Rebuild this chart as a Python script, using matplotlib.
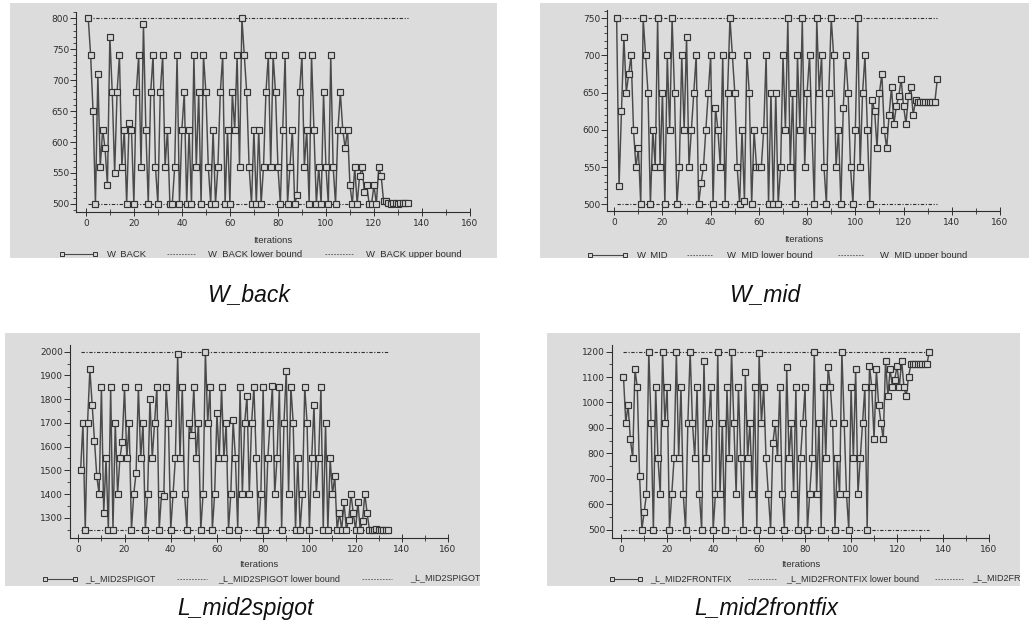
import matplotlib
matplotlib.use("Agg")
import matplotlib.pyplot as plt
import numpy as np
from matplotlib.ticker import MultipleLocator

# %% Data
w_back = [
    800, 740, 650, 500, 710, 560, 620, 590, 530, 770,
    680, 550, 680, 740, 560, 620, 500, 630, 620, 500,
    680, 740, 560, 790, 620, 500, 680, 740, 560, 500,
    680, 740, 560, 620, 500, 500, 560, 740, 500, 620,
    680, 500, 620, 500, 740, 560, 680, 500, 740, 680,
    560, 500, 620, 500, 560, 680, 740, 500, 620, 500,
    680, 620, 740, 560, 800, 740, 680, 560, 500, 620,
    500, 620, 500, 560, 680, 740, 560, 740, 680, 560,
    500, 620, 740, 500, 560, 620, 500, 515, 680, 740,
    560, 620, 500, 740, 620, 500, 560, 500, 680, 560,
    500, 740, 560, 500, 620, 680, 620, 590, 620, 530,
    500, 560, 500, 545, 560, 520, 530, 500, 500, 530,
    500, 560, 545, 505, 505, 502, 500, 502, 501, 500,
    501, 501, 501, 501,
]
w_mid = [
    750, 524, 625, 725, 650, 675, 700, 600, 550, 575,
    500, 750, 700, 650, 500, 600, 550, 750, 550, 650,
    500, 700, 600, 750, 650, 500, 550, 700, 600, 725,
    550, 600, 650, 700, 500, 528, 550, 600, 650, 700,
    500, 630, 600, 550, 700, 500, 650, 750, 700, 650,
    550, 500, 600, 505, 700, 650, 500, 600, 550, 550,
    550, 600, 700, 500, 650, 500, 650, 500, 550, 700,
    600, 750, 550, 650, 500, 700, 600, 750, 550, 650,
    700, 600, 500, 750, 650, 700, 550, 500, 650, 750,
    700, 550, 600, 500, 630, 700, 650, 550, 500, 600,
    750, 550, 650, 700, 600, 500, 640, 625, 575, 650,
    675, 600, 575, 620, 657, 608, 632, 645, 668, 632,
    608, 645, 657, 620, 640, 638, 638, 638, 638, 638,
    638, 638, 638, 668,
]
l_mid2spigot = [
    1500, 1700, 1250, 1700, 1925, 1775, 1625, 1475, 1400, 1850,
    1320, 1550, 1250, 1850, 1250, 1700, 1400, 1550, 1620, 1850,
    1550, 1700, 1250, 1400, 1490, 1850, 1550, 1700, 1250, 1400,
    1800, 1550, 1700, 1850, 1250, 1400, 1390, 1850, 1700, 1250,
    1400, 1550, 1990, 1550, 1850, 1400, 1250, 1700, 1650, 1850,
    1550, 1700, 1250, 1400, 2000, 1700, 1850, 1250, 1400, 1740,
    1550, 1850, 1550, 1700, 1250, 1400, 1710, 1550, 1250, 1850,
    1400, 1700, 1815, 1400, 1700, 1850, 1550, 1250, 1400, 1850,
    1250, 1550, 1700, 1855, 1400, 1550, 1850, 1250, 1700, 1920,
    1400, 1850, 1700, 1250, 1550, 1250, 1400, 1850, 1700, 1250,
    1550, 1775, 1400, 1550, 1850, 1250, 1700, 1250, 1550, 1400,
    1475, 1250, 1320, 1250, 1365, 1250, 1290, 1400, 1320, 1250,
    1365, 1250, 1285, 1400, 1320, 1250, 1250, 1250, 1255, 1250,
    1250, 1250, 1250, 1250,
]
l_mid2frontfix = [
    1100, 920, 990, 855, 780, 1130, 1060, 710, 500, 570,
    640, 1200, 920, 500, 1060, 780, 640, 1200, 920, 1060,
    500, 640, 780, 1200, 780, 1060, 640, 500, 920, 1200,
    920, 780, 1060, 640, 500, 1165, 780, 920, 1060, 500,
    640, 1200, 640, 920, 500, 1060, 780, 1200, 920, 640,
    1060, 780, 500, 1120, 780, 920, 640, 1060, 500, 1195,
    920, 1060, 780, 640, 500, 840, 920, 780, 1060, 640,
    500, 1140, 780, 920, 640, 1060, 500, 780, 920, 1060,
    500, 640, 780, 1200, 640, 920, 500, 1060, 780, 1140,
    1060, 920, 500, 780, 640, 1200, 920, 640, 500, 1060,
    780, 1130, 640, 780, 920, 1060, 500, 1145, 1060, 855,
    1130, 990, 920, 855, 1165, 1025, 1130, 1060, 1090, 1145,
    1060, 1165, 1060, 1025, 1100, 1150, 1150, 1150, 1150, 1150,
    1150, 1150, 1150, 1200,
]
series_values = [w_back, w_mid, l_mid2spigot, l_mid2frontfix]
series_names = ["W_BACK", "W_MID", "_L_MID2SPIGOT", "_L_MID2FRONTFIX"]
panel_titles = ["W_back", "W_mid", "L_mid2spigot", "L_mid2frontfix"]
lower_bounds = [500, 500, 1250, 500]
upper_bounds = [800, 750, 2000, 1200]

# %% Layout (pixel boxes in the 1029x639 canvas)
W, H = 1029, 639
layouts = [
    dict(gray=(10, 3, 497, 258), axes=(76, 12, 470, 212), xlim=(-4.1, 160), ylim=(487, 810),
         ystep=50, yminor=10, ytop=800, ybot=500, label_y=240, leg_y=254, leg_fs=6.8,
         leg=(62, 95, 107, 167, 195, 208, 325, 353, 366), title=(248, 295)),
    dict(gray=(540, 3, 1029, 258), axes=(607, 10, 1000, 211), xlim=(-3, 160), ylim=(491, 761),
         ystep=50, yminor=10, ytop=750, ybot=500, label_y=239, leg_y=255, leg_fs=6.8,
         leg=(590, 625, 637, 687, 713, 727, 838, 863, 880), title=(765, 295)),
    dict(gray=(5, 333, 480, 586), axes=(70, 345, 448, 538), xlim=(-3.6, 160), ylim=(1215, 2028),
         ystep=100, yminor=50, ytop=2000, ybot=1300, label_y=565, leg_y=579, leg_fs=6.5,
         leg=(45, 75, 85, 177, 207, 218, 362, 392, 410), title=(245, 608)),
    dict(gray=(547, 333, 1020, 586), axes=(612, 345, 989, 538), xlim=(-4, 160), ylim=(467, 1226),
         ystep=100, yminor=50, ytop=1200, ybot=500, label_y=565, leg_y=579, leg_fs=6.5,
         leg=(612, 640, 650, 748, 776, 786, 935, 963, 972), title=(766, 608)),
]

GRAY = "#dcdcdc"
INK = "#2e2e2e"
LINE = "#4a4a4a"
BOUND_STYLE = (0, (3, 1.5, 1, 1.5))
SMALL_FONT = ["Liberation Sans", "DejaVu Sans"]


def fbox(x0, y0, x1, y1):
    return [x0 / W, 1 - y1 / H, (x1 - x0) / W, (y1 - y0) / H]


fig = plt.figure(figsize=(W / 100, H / 100), dpi=100)

for vals, name, title, lo, hi, lay in zip(
    series_values, series_names, panel_titles, lower_bounds, upper_bounds, layouts
):
    iterations = np.arange(1, len(vals) + 1)

    # grey background panel, in pixel coordinates
    gx0, gy0, gx1, gy1 = lay["gray"]
    bg = fig.add_axes(fbox(*lay["gray"]))
    bg.set_xlim(gx0, gx1)
    bg.set_ylim(gy1, gy0)
    bg.axis("off")
    bg.add_patch(plt.Rectangle((gx0, gy0), gx1 - gx0, gy1 - gy0, color=GRAY, zorder=0))

    # plot axes
    ax = fig.add_axes(fbox(*lay["axes"]))
    ax.patch.set_alpha(0)
    ax.plot([iterations[0], iterations[-1]], [lo, lo], color=INK, lw=0.8, ls=BOUND_STYLE, zorder=2)
    ax.plot([iterations[0], iterations[-1]], [hi, hi], color=INK, lw=0.8, ls=BOUND_STYLE, zorder=2)
    ax.plot(iterations, vals, color=LINE, lw=1.05, marker="s", ms=4.6,
            mfc="#d4d4d4", mec="#333333", mew=0.85, zorder=3)

    ax.set_xlim(*lay["xlim"])
    ax.set_ylim(*lay["ylim"])
    ax.set_xticks(np.arange(0, 161, 20))
    ax.xaxis.set_minor_locator(MultipleLocator(10))
    ax.set_yticks(np.arange(lay["ybot"], lay["ytop"] + 1, lay["ystep"]))
    ax.yaxis.set_minor_locator(MultipleLocator(lay["yminor"]))
    for side in ("top", "right"):
        ax.spines[side].set_visible(False)
    for side in ("left", "bottom"):
        ax.spines[side].set_color(INK)
        ax.spines[side].set_linewidth(0.8)
    ax.tick_params(axis="y", which="major", length=4, width=0.7, pad=1,
                   labelsize=6.5, colors=INK)
    ax.tick_params(axis="y", which="minor", length=2, width=0.6, colors=INK)
    ax.tick_params(axis="x", which="major", direction="inout", length=6, width=0.7,
                   pad=2, labelsize=6.5, colors=INK)
    ax.tick_params(axis="x", which="minor", direction="inout", length=4, width=0.6, colors=INK)

    # axis label and legend row drawn on the grey panel
    ax0, _, ax1, _ = lay["axes"]
    bg.text((ax0 + ax1) / 2, lay["label_y"], "Iterations", fontsize=6.8, color=INK,
            family=SMALL_FONT, ha="center", va="center")
    m0, m1, t1, l20, l21, t2, l30, l31, t3 = lay["leg"]
    ly = lay["leg_y"]
    bg.plot([m0, m1], [ly, ly], color=LINE, lw=0.8, marker="s", ms=3.5,
            mfc="#d4d4d4", mec="#333333", mew=0.7)
    bg.plot([l20, l21], [ly, ly], color="#555555", lw=0.6, ls=(0, (2, 1.5)))
    bg.plot([l30, l31], [ly, ly], color="#555555", lw=0.6, ls=(0, (2, 1.5)))
    for tx, label in ((t1, name), (t2, f"{name} lower bound"), (t3, f"{name} upper bound")):
        bg.text(tx, ly, label, fontsize=lay["leg_fs"], color=INK, family=SMALL_FONT,
                ha="left", va="center", clip_on=True)

    # caption under each panel
    cx, cy = lay["title"]
    fig.text(cx / W, 1 - cy / H, title, fontsize=16.5, style="italic",
             family=["Liberation Sans", "DejaVu Sans"], ha="center", va="center", color="#111111")

fig.savefig("out.png", dpi=100, facecolor="white")
